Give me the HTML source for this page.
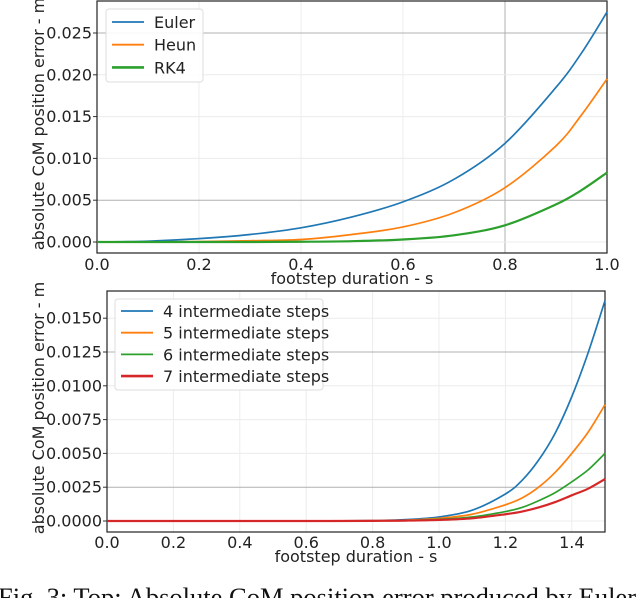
<!DOCTYPE html>
<html><head><meta charset="utf-8"><style>
body{margin:0;background:#fff;width:640px;height:598px;overflow:hidden}
svg{display:block;font-family:"DejaVu Sans","Liberation Sans",sans-serif}
</style></head><body>
<svg id="s" width="640" height="598"></svg>
<script>
const topX=[0,0.1,0.2,0.3,0.4,0.5,0.6,0.7,0.8,0.9,0.95,1.0];
const euler=[0,0.0001,0.0004,0.0009,0.0017,0.003,0.0048,0.0075,0.0118,0.0185,0.0226,0.0275];
const heun=[0,0,0.00005,0.00015,0.0003,0.0009,0.0018,0.0035,0.0065,0.0115,0.0152,0.0195];
const rk4=[0,0,0,0,0.00003,0.0001,0.0003,0.0008,0.002,0.0045,0.0062,0.0083];
const topXTicks=["0.0","0.2","0.4","0.6","0.8","1.0"];
const topYTicks=["0.000","0.005","0.010","0.015","0.020","0.025"];
const botX=[0,0.2,0.4,0.6,0.8,0.9,1.0,1.1,1.2,1.25,1.3,1.35,1.4,1.45,1.5];
const s4=[0,0,0,0,0.00003,0.0001,0.0003,0.0008,0.002,0.003,0.0045,0.0065,0.0092,0.0125,0.0163];
const s5=[0,0,0,0,0.00002,0.00006,0.0002,0.0005,0.0012,0.0017,0.0025,0.0036,0.005,0.0066,0.0086];
const s6=[0,0,0,0,0.00001,0.00004,0.00012,0.0003,0.0007,0.001,0.0015,0.0021,0.0029,0.0038,0.005];
const s7=[0,0,0,0,0.00001,0.00003,0.00008,0.0002,0.0005,0.0007,0.001,0.0014,0.0019,0.0024,0.0031];
const botXTicks=["0.0","0.2","0.4","0.6","0.8","1.0","1.2","1.4"];
const botYTicks=["0.0000","0.0025","0.0050","0.0075","0.0100","0.0125","0.0150"];
const C=["#1f77b4","#ff7f0e","#2ca02c","#d62728"];
const svg=document.getElementById('s');const NS="http://www.w3.org/2000/svg";
function el(t,a,txt,p){const e=document.createElementNS(NS,t);for(const k in a)e.setAttribute(k,a[k]);if(txt!=null)e.textContent=txt;(p||svg).appendChild(e);return e;}
function path(xs,ys,fx,fy){const P=xs.map((x,i)=>[fx(x),fy(ys[i])]);let d="M"+P[0][0]+","+P[0][1];
for(let i=0;i<P.length-1;i++){const p0=P[Math.max(0,i-1)],p1=P[i],p2=P[i+1],p3=P[Math.min(P.length-1,i+2)];
d+=" C"+(p1[0]+(p2[0]-p0[0])/6)+","+(p1[1]+(p2[1]-p0[1])/6)+" "+(p2[0]-(p3[0]-p1[0])/6)+","+(p2[1]-(p3[1]-p1[1])/6)+" "+p2[0]+","+p2[1];}return d;}
function panel(o){
 const g=el('g',{});
 const fx=v=>o.x0+(v-o.xmin)/(o.xmax-o.xmin)*(o.x1-o.x0);
 const fy=v=>o.y0-v/o.ystep*o.ypx;
 o.xt.forEach((t,i)=>{const x=fx(parseFloat(t));el('line',{x1:x,x2:x,y1:o.top,y2:o.bot,stroke:o.darkX.includes(t)?'#b0b0b0':'#ececec','stroke-width':1},null,g);
  const tl=el('text',{x:x,y:o.xty,'text-anchor':'middle','font-size':16,fill:'#222'},t,g);});
 o.yt.forEach((t,i)=>{const y=fy(parseFloat(t));el('line',{x1:o.x0,x2:o.x1,y1:y,y2:y,stroke:o.darkY.includes(t)?'#b0b0b0':'#ececec','stroke-width':1},null,g);
  el('line',{x1:o.x0-4,x2:o.x0,y1:y,y2:y,stroke:'#333'},null,g);
  const tl=el('text',{x:o.x0-5,y:y+5.5,'text-anchor':'end','font-size':16,fill:'#222'},t,g);});
 el('rect',{x:o.x0,y:o.top,width:o.x1-o.x0,height:o.bot-o.top,fill:'none',stroke:'#222','stroke-width':1.2},null,g);
 o.series.forEach((sr,i)=>{const p=el('path',{d:path(o.xs,sr,fx,fy),fill:'none',stroke:C[i],'stroke-width':i==o.series.length-1?2.2:1.7},null,g);});
 const xl=el('text',{x:(o.x0+o.x1)/2,y:o.xly,'text-anchor':'middle','font-size':16,fill:'#222'},'footstep duration - s',g);
 const yl=el('text',{transform:`translate(${o.ylx},${o.ylc}) rotate(-90)`,'text-anchor':'middle','font-size':16,fill:'#222'},'absolute CoM position error - m',g);
 const lg=el('g',{},null,g);
 el('rect',{x:o.lx,y:o.ly,width:o.lw,height:o.lh,rx:3,fill:'#fff','fill-opacity':0.9,stroke:'#ddd'},null,lg);
 o.labels.forEach((t,i)=>{const y=o.ly+o.lfirst+i*o.lgap;
  const le=el('g',{},null,lg);
  el('line',{x1:o.lx+6,x2:o.lx+38,y1:y,y2:y,stroke:C[i],'stroke-width':i==o.labels.length-1?2.6:1.8},null,le);
  el('text',{x:o.lx+48,y:y+6,'font-size':16,fill:'#222'},t,le);});
}
panel({name:'top-chart',x0:97,x1:607,xmin:0,xmax:1,y0:242,ystep:0.005,ypx:41.8,top:1,bot:253,xt:topXTicks,yt:topYTicks,darkX:["0.8"],darkY:["0.025","0.005"],xty:270,xly:284,ylx:44,ylc:124,xs:topX,series:[euler,heun,rk4],labels:["Euler","Heun","RK4"],lx:106,ly:9,lw:97,lh:73,lfirst:13,lgap:22.7});
panel({name:'bottom-chart',x0:107,x1:605,xmin:0,xmax:1.5,y0:521,ystep:0.0025,ypx:33.8,top:291,bot:532,xt:botXTicks,yt:botYTicks,darkX:[],darkY:["0.0125","0.0025"],xty:548,xly:562,ylx:44,ylc:408,xs:botX,series:[s4,s5,s6,s7],labels:["4 intermediate steps","5 intermediate steps","6 intermediate steps","7 intermediate steps"],lx:115,ly:299,lw:208,lh:91,lfirst:12,lgap:21.7});
const cap=el('text',{x:-2,y:606,'font-size':26.5,'font-family':'"Liberation Serif",serif',fill:'#111'},'Fig. 3: Top: Absolute CoM position error produced by Euler');

</script></body></html>
